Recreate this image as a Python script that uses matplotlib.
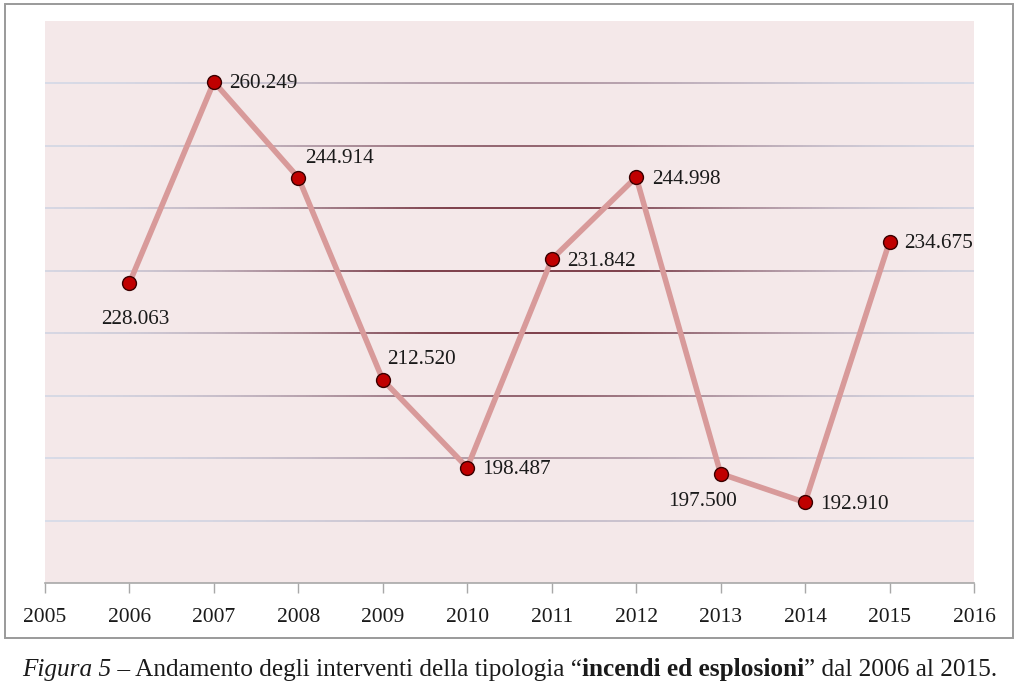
import matplotlib
matplotlib.use("Agg")
import matplotlib.pyplot as plt
import numpy as np
from matplotlib.collections import LineCollection
from matplotlib.patches import Rectangle

years = [2006, 2007, 2008, 2009, 2010, 2011, 2012, 2013, 2014, 2015]
values = [228063, 260249, 244914, 212520, 198487, 231842, 244998, 197500, 192910, 234675]
labels = ["228.063", "260.249", "244.914", "212.520", "198.487",
          "231.842", "244.998", "197.500", "192.910", "234.675"]
xticks = list(range(2005, 2017))
gridvals = list(range(190000, 270000, 10000))

# label offsets (pixels) and alignment
offsets = [(6, -37, "center"), (15, -2, "left"), (7, 19, "left"), (4, 20, "left"),
           (15, -2, "left"), (15, -2, "left"), (16, -2, "left"), (-18, -28, "center"),
           (15, -2, "left"), (15, -2, "left")]

W, H = 1024, 689
fig = plt.figure(figsize=(W / 100, H / 100), dpi=100)
fig.patch.set_facecolor("white")

# outer frame
fig.patches.append(Rectangle((5 / W, 1 - 638 / H), (1013 - 5) / W, (638 - 4) / H,
                             transform=fig.transFigure, fill=False,
                             edgecolor="#9a9a9a", linewidth=1.4))

ax = fig.add_axes([45 / W, 1 - 583 / H, (974 - 45) / W, (583 - 21) / H])
ax.set_facecolor("#f4e8e9")
ax.set_xlim(2005, 2016)
ax.set_ylim(180000, 270000)

# gridlines with soft gradient (light blue at edges, dark red in the middle)
light = np.array([213, 220, 234]) / 255
dark = np.array([105, 35, 48]) / 255
xc, sx = 2010.6, 3.1
yc, sy = 230000, 30000
xs = np.linspace(2005, 2016, 300)
for gv in gridvals:
    w = np.exp(-((xs - xc) / sx) ** 2 - ((gv - yc) / sy) ** 2)
    w = np.clip(w * 1.2, 0, 1)
    cols = light[None, :] * (1 - w[:, None]) + dark[None, :] * w[:, None]
    segs = [[(xs[i], gv), (xs[i + 1], gv)] for i in range(len(xs) - 1)]
    lc = LineCollection(segs, colors=cols[:-1], linewidths=1.2, zorder=1)
    ax.add_collection(lc)

ax.plot(years, values, color="#d89a9a", linewidth=4.0, zorder=3,
        solid_capstyle="round", solid_joinstyle="round")
ax.plot(years, values, linestyle="none", marker="o", markersize=10,
        markerfacecolor="#c00000", markeredgecolor="#3a0000",
        markeredgewidth=1.0, zorder=4)

for x, v, lab, (dx, dy, ha) in zip(years, values, labels, offsets):
    ax.annotate(lab, (x, v), xytext=(dx, dy), textcoords="offset pixels",
                ha=ha, va="center", fontsize=15.3, family="Liberation Serif",
                color="#1a1a1a", zorder=5)

for s in ["top", "right", "left"]:
    ax.spines[s].set_visible(False)
ax.spines["bottom"].set_color("#a8a8a8")
ax.spines["bottom"].set_linewidth(1.2)
ax.set_yticks([])
ax.set_xticks(xticks)
ax.set_xticklabels([str(t) for t in xticks], fontsize=15.5, family="Liberation Serif",
                   color="#1a1a1a")
ax.tick_params(axis="x", length=7, width=1.0, color="#a8a8a8", pad=11)

# caption with mixed styles
pieces = [("Figura 5", "italic", "normal"),
          (" \u2013 Andamento degli interventi della tipologia \u201c", "normal", "normal"),
          ("incendi ed esplosioni", "normal", "bold"),
          ("\u201d dal 2006 al 2015.", "normal", "normal")]
renderer = fig.canvas.get_renderer()
x0 = 22 / W
ybase = 1 - 676 / H
for txt, style, weight in pieces:
    t = fig.text(x0, ybase, txt, fontsize=18.2, family="Liberation Serif",
                 style=style, weight=weight, ha="left", va="baseline", color="#1a1a1a")
    bb = t.get_window_extent(renderer=renderer)
    x0 += bb.width / W

fig.savefig("out.png", dpi=100, facecolor="white")
